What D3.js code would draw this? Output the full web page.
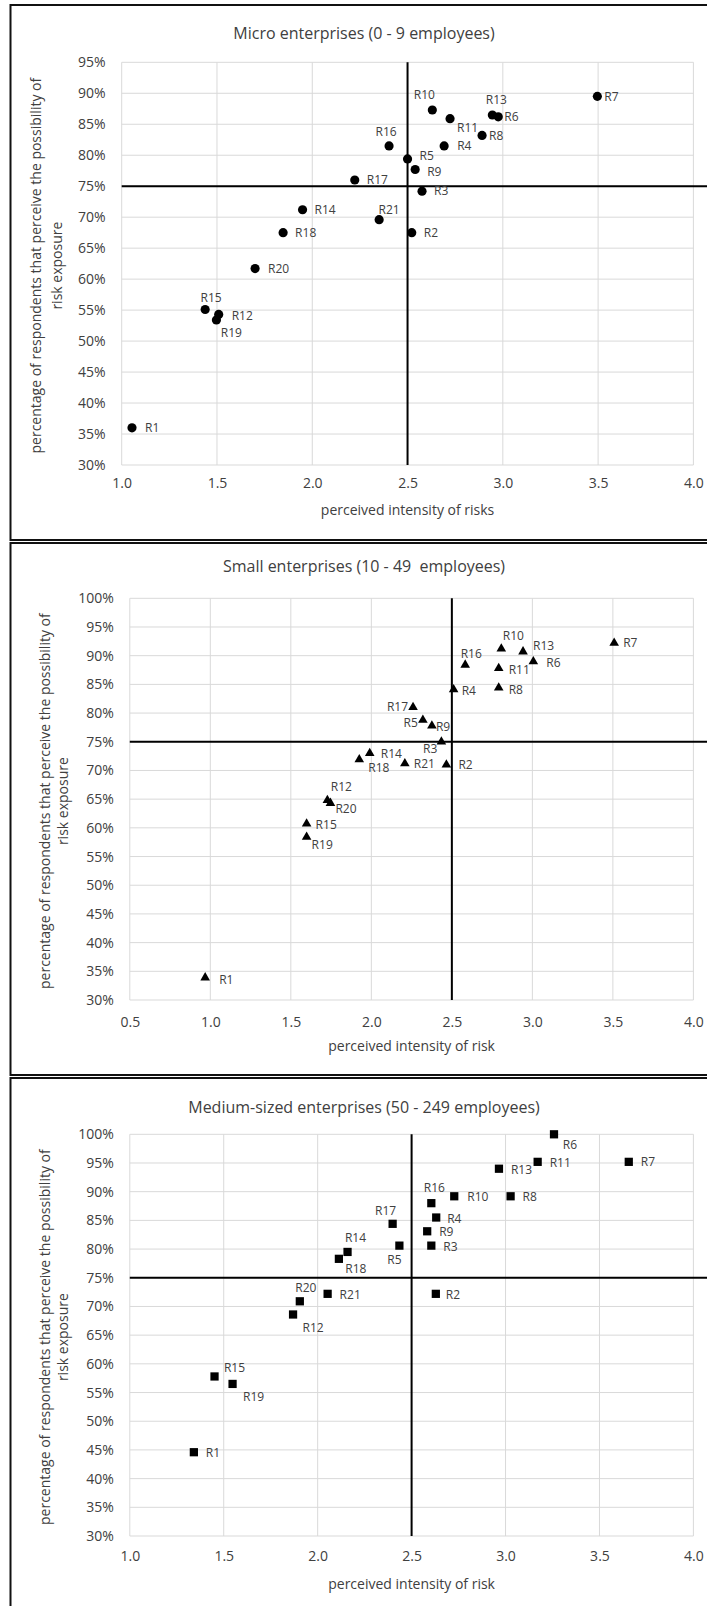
<!DOCTYPE html>
<html><head><meta charset="utf-8">
<script src="https://cdn.jsdelivr.net/npm/d3@7"></script>
<style>
body{margin:0;background:#fff}
svg{display:block}
text{font-family:"Open Sans",sans-serif;fill:#404040;white-space:pre}
</style>
</head><body>
<svg id="chart" width="707" height="1606"></svg>
<script>
// ---------- DATA ----------
const riskLabels = ["R1","R2","R3","R4","R5","R6","R7","R8","R9","R10","R11","R12","R13","R14","R15","R16","R17","R18","R19","R20","R21"];

// Micro enterprises (0 - 9 employees)
const microIntensity = [1.054,2.522,2.576,2.692,2.500,2.976,3.496,2.891,2.540,2.630,2.723,1.509,2.945,1.949,1.438,2.403,2.223,1.847,1.497,1.700,2.351];
const microExposure  = [36.0,67.5,74.2,81.5,79.4,86.2,89.5,83.2,77.7,87.3,85.9,54.3,86.5,71.2,55.1,81.5,76.0,67.5,53.4,61.7,69.6];

// Small enterprises (10 - 49 employees)
const smallIntensity = [0.968,2.466,2.435,2.511,2.320,3.006,3.508,2.791,2.376,2.807,2.791,1.727,2.942,1.990,1.598,2.583,2.259,1.925,1.598,1.746,2.208];
const smallExposure  = [33.9,71.0,75.0,84.1,78.8,89.0,92.2,84.4,77.8,91.2,87.8,64.8,90.7,73.0,60.7,88.4,81.0,71.9,58.4,64.3,71.2];

// Medium-sized enterprises (50 - 249 employees)
const mediumIntensity = [1.341,2.629,2.605,2.631,2.435,3.258,3.656,3.027,2.583,2.727,3.171,1.869,2.965,2.159,1.451,2.605,2.399,2.113,1.547,1.905,2.053];
const mediumExposure  = [44.6,72.2,80.6,85.5,80.6,100.0,95.2,89.2,83.1,89.2,95.2,68.6,94.0,79.5,57.8,88.0,84.4,78.3,56.5,70.9,72.2];

const titles = ["Micro enterprises (0 - 9 employees)","Small enterprises (10 - 49  employees)","Medium-sized enterprises (50 - 249 employees)"];
const xTitles = ["perceived intensity of risks","perceived intensity of risk","perceived intensity of risk"];
const yTitleLines = ["percentage of respondents that perceive the possibility of","risk exposure"];
const xTicksMicro = [1.0,1.5,2.0,2.5,3.0,3.5,4.0];
const xTicksSmall = [0.5,1.0,1.5,2.0,2.5,3.0,3.5,4.0];
const xTicksMedium = [1.0,1.5,2.0,2.5,3.0,3.5,4.0];
const yTicksMicro = [30,35,40,45,50,55,60,65,70,75,80,85,90,95];
const yTicksSmall = [30,35,40,45,50,55,60,65,70,75,80,85,90,95,100];
const yTicksMedium = [30,35,40,45,50,55,60,65,70,75,80,85,90,95,100];
const thresholdX = 2.5, thresholdY = 75;

// ---------- LAYOUT (label placement: [anchor, dx, dy]) ----------
const placeMicro = {
 R1:["start",13,0],R2:["start",12,0],R3:["start",12,0],R4:["start",13,0],R5:["start",12,-3],R6:["start",6,0],R7:["start",7,0],
 R8:["start",7,0],R9:["start",12,2],R10:["middle",-8,-15],R11:["start",7,9],R12:["start",13,1],R13:["middle",4,-15],R14:["start",12,0],
 R15:["middle",6,-12],R16:["middle",-3,-14],R17:["start",12,0],R18:["start",12,0],R19:["middle",15,13],R20:["start",13,0],R21:["middle",10,-10]
};
const placeSmall = {
 R1:["start",14,2],R2:["start",12,0],R3:["end",-4,7],R4:["start",8,1],R5:["end",-5,3],R6:["start",13,1],R7:["start",9,0],
 R8:["start",10,2],R9:["start",4,1],R10:["middle",12,-13],R11:["start",10,1],R12:["middle",14,-13],R13:["start",10,-6],R14:["start",11,1],
 R15:["start",9,1],R16:["middle",6,-11],R17:["end",-5,-1],R18:["start",9,8],R19:["start",5,8],R20:["start",5,6],R21:["start",9,0]
};
const placeMedium = {
 R1:["start",12,1],R2:["start",10,1],R3:["start",12,1],R4:["start",11,1],R5:["middle",-5,14],R6:["middle",16,10],R7:["start",12,0],
 R8:["start",12,1],R9:["start",12,1],R10:["start",13,1],R11:["start",12,1],R12:["middle",20,13],R13:["start",12,1],R14:["middle",8,-14],
 R15:["middle",20,-9],R16:["middle",3,-15],R17:["middle",-7,-13],R18:["middle",17,10],R19:["middle",21,13],R20:["middle",6,-13],R21:["start",12,1]
};

const panels = [
 {title:titles[0], xTitle:xTitles[0], xs:microIntensity, ys:microExposure, xTicks:xTicksMicro, yTicks:yTicksMicro,
  symbol:d3.symbolCircle, size:66, place:placeMicro,
  box:[5,540], plot:{l:121.7,r:693.4,t:62.3,b:465}, titleY:33, xTickGap:18, xTitleY:510, yTitleX:[36,57]},
 {title:titles[1], xTitle:xTitles[1], xs:smallIntensity, ys:smallExposure, xTicks:xTicksSmall, yTicks:yTicksSmall,
  symbol:d3.symbolTriangle, size:40, place:placeSmall,
  box:[543,1075], plot:{l:129.8,r:693.4,t:598.3,b:1000}, titleY:566, xTickGap:22, xTitleY:1046, yTitleX:[45,63]},
 {title:titles[2], xTitle:xTitles[2], xs:mediumIntensity, ys:mediumExposure, xTicks:xTicksMedium, yTicks:yTicksMedium,
  symbol:d3.symbolSquare, size:68, place:placeMedium,
  box:[1078,1640], plot:{l:129.8,r:693.4,t:1134.3,b:1536}, titleY:1107, xTickGap:20, xTitleY:1584, yTitleX:[45,63]}
];

const svg = d3.select("#chart");

panels.forEach(p => {
  const g = svg.append("g");
  // panel border
  g.append("rect").attr("x",10.5).attr("y",p.box[0]).attr("width",740).attr("height",p.box[1]-p.box[0])
    .attr("fill","none").attr("stroke","#111").attr("stroke-width",2);

  const x = d3.scaleLinear().domain(d3.extent(p.xTicks)).range([p.plot.l,p.plot.r]);
  const y = d3.scaleLinear().domain(d3.extent(p.yTicks)).range([p.plot.b,p.plot.t]);

  // gridlines
  g.append("g").selectAll("line").data(p.xTicks).join("line")
    .attr("x1",d=>x(d)).attr("x2",d=>x(d)).attr("y1",p.plot.t).attr("y2",p.plot.b)
    .attr("stroke","#d9d9d9").attr("stroke-width",1);
  g.append("g").selectAll("line").data(p.yTicks).join("line")
    .attr("x1",p.plot.l).attr("x2",p.plot.r).attr("y1",d=>y(d)).attr("y2",d=>y(d))
    .attr("stroke","#d9d9d9").attr("stroke-width",1);

  // axes (tick labels only)
  const yAxis = d3.axisLeft(y).tickValues(p.yTicks).tickFormat(d=>d+"%").tickSize(0).tickPadding(16);
  const ya = g.append("g").attr("transform",`translate(${p.plot.l},0)`).call(yAxis);
  ya.select(".domain").remove();
  ya.selectAll("text").attr("font-size",14).attr("fill","#404040").attr("font-family","Open Sans");

  const xAxis = d3.axisBottom(x).tickValues(p.xTicks).tickFormat(d3.format(".1f")).tickSize(0).tickPadding(0);
  const xa = g.append("g").attr("transform",`translate(0,${p.plot.b + p.xTickGap})`).call(xAxis);
  xa.select(".domain").remove();
  xa.selectAll("text").attr("font-size",14).attr("fill","#404040").attr("font-family","Open Sans").attr("dy","0.35em");

  // threshold lines
  g.append("line").attr("x1",x(thresholdX)).attr("x2",x(thresholdX)).attr("y1",p.plot.t).attr("y2",p.plot.b)
    .attr("stroke","#000").attr("stroke-width",2);
  g.append("line").attr("x1",p.plot.l).attr("x2",707).attr("y1",y(thresholdY)).attr("y2",y(thresholdY))
    .attr("stroke","#000").attr("stroke-width",2);

  // titles
  g.append("text").attr("x",364).attr("y",p.titleY).attr("dy","0.35em").attr("text-anchor","middle")
    .attr("font-size",16).text(p.title);
  g.append("text").attr("x",(p.plot.l+p.plot.r)/2).attr("y",p.xTitleY).attr("dy","0.35em").attr("text-anchor","middle")
    .attr("font-size",14).text(p.xTitle);
  const cy = (p.plot.t+p.plot.b)/2 + 2;
  yTitleLines.forEach((t,i)=>{
    g.append("text").attr("transform",`translate(${p.yTitleX[i]},${cy}) rotate(-90)`)
      .attr("dy","0.35em").attr("text-anchor","middle").attr("font-size",14).text(t);
  });

  // points
  const pts = riskLabels.map((lab,i)=>({lab, xv:p.xs[i], yv:p.ys[i]}));
  g.append("g").selectAll("path").data(pts).join("path")
    .attr("d", d3.symbol().type(p.symbol).size(p.size))
    .attr("transform", d=>`translate(${x(d.xv)},${y(d.yv)})`)
    .attr("fill","#000");
  g.append("g").selectAll("text").data(pts).join("text")
    .attr("x", d=>x(d.xv)+p.place[d.lab][1])
    .attr("y", d=>y(d.yv)+p.place[d.lab][2])
    .attr("dy","0.35em")
    .attr("text-anchor", d=>p.place[d.lab][0])
    .attr("font-size",12)
    .text(d=>d.lab);
});
</script>
</body></html>
